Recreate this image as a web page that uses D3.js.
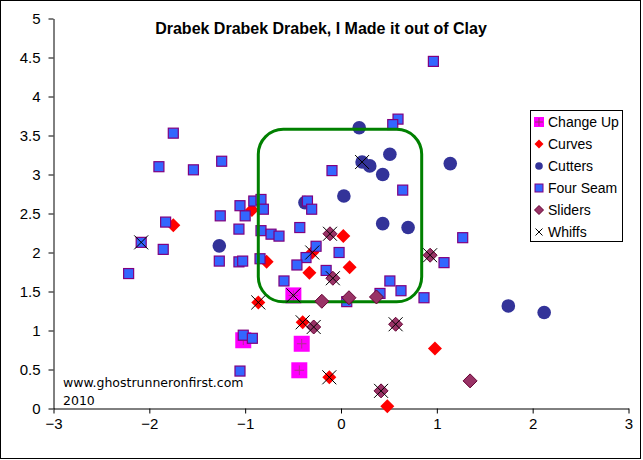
<!DOCTYPE html>
<html>
<head>
<meta charset="utf-8">
<script src="https://cdn.jsdelivr.net/npm/d3@7"></script>
<style>
  body { margin: 0; background: #fff; }
  svg { display: block; }
  text { font-family: "Liberation Sans", Arial, sans-serif; }
</style>
</head>
<body>
<svg id="chart" width="643" height="460"></svg>
<script>
// pitch locations, [horizontal, vertical]
var changeUp = [[-1.02, 0.875], [-0.41, 0.83], [-0.435, 0.49], [-0.497, 1.45]];
var curves = [[-1.75, 2.35], [-0.93, 2.545], [-0.776, 1.88], [-0.30, 2.0], [-0.33, 1.74], [0.024, 2.21],
    [0.09, 1.81], [-0.863, 1.36], [-0.40, 1.105], [-0.122, 0.40], [0.98, 0.77], [0.483, 0.03]];
var cutters = [[-0.376, 2.64], [0.03, 2.725], [0.19, 3.60], [0.51, 3.26], [0.22, 3.16], [0.30, 3.11],
    [0.435, 3.0], [1.14, 3.14], [0.435, 2.37], [0.70, 2.32], [-1.27, 2.085], [1.746, 1.315], [2.12, 1.23]];
var fourSeam = [[-1.75, 3.53], [-1.90, 3.10], [-1.54, 3.06], [-1.245, 3.17], [-1.83, 2.39], [-1.26, 2.47],
    [-1.054, 2.60], [-1.00, 2.47], [-0.91, 2.66], [-0.835, 2.68], [-0.81, 2.555], [-0.35, 2.66],
    [-0.306, 2.555], [-0.43, 2.32], [-1.065, 2.30], [-0.835, 2.28], [-0.73, 2.235], [-0.647, 2.21],
    [-0.26, 2.08], [-0.365, 1.935], [-0.46, 1.84], [-0.595, 1.635], [-1.27, 1.89], [-1.065, 1.88],
    [-1.026, 1.89], [-0.845, 1.92], [-0.02, 2.0], [-0.155, 1.77], [-1.02, 0.94], [-0.925, 0.90],
    [-2.085, 2.13], [-1.855, 2.04], [-2.216, 1.73], [-1.054, 0.48], [0.595, 3.71], [0.54, 3.64],
    [-0.094, 3.05], [0.644, 2.80], [0.964, 4.45], [1.27, 2.19], [1.075, 1.87], [0.51, 1.635],
    [0.626, 1.51], [0.407, 1.475], [0.866, 1.42], [0.06, 1.37]];
var sliders = [[-0.115, 2.24], [-0.085, 1.67], [-0.2, 1.375], [-0.285, 1.045], [0.93, 1.965], [0.083, 1.42],
    [0.37, 1.43], [0.57, 1.08], [0.418, 0.226], [1.347, 0.354]];
var whiffs = [[-2.085, 2.13], [0.22, 3.16], [-0.115, 2.24], [-0.30, 2.0], [-0.085, 1.67], [-0.497, 1.45],
    [-0.863, 1.36], [-0.40, 1.105], [-0.285, 1.045], [0.93, 1.965], [0.57, 1.08], [-0.122, 0.40], [0.418, 0.226]];
// strike zone box corners
var zone = { x0: -0.863, x1: 0.842, y0: 1.367, y1: 3.58 };
var legendNames = ["Change Up", "Curves", "Cutters", "Four Seam", "Sliders", "Whiffs"];
var xTicks = [-3, -2, -1, 0, 1, 2, 3];
var yTicks = [0, 0.5, 1, 1.5, 2, 2.5, 3, 3.5, 4, 4.5, 5];

var svg = d3.select("#chart");
var x = d3.scaleLinear().domain([-3, 3]).range([53.5, 628.5]);
var y = d3.scaleLinear().domain([0, 5]).range([408.5, 18.5]);

//chart border
svg.append("rect").attr("x", 0.5).attr("y", 0.5).attr("width", 640).attr("height", 458)
    .attr("fill", "#fff").attr("stroke", "#000").attr("stroke-width", 1);

//axes
var xAxis = svg.append("g").attr("transform", "translate(0," + y(0) + ")")
    .call(d3.axisBottom(x).tickValues(xTicks).tickSize(5).tickSizeOuter(0).tickFormat(d3.format("d")));
var yAxis = svg.append("g").attr("transform", "translate(" + x(-3) + ",0)")
    .call(d3.axisLeft(y).tickValues(yTicks).tickSize(5).tickSizeOuter(0).tickFormat(function(d) { return String(d); }));
[xAxis, yAxis].forEach(function(a) {
    a.select(".domain").attr("stroke", "#000");
    a.selectAll(".tick line").attr("stroke", "#000");
    a.selectAll(".tick text").attr("fill", "#000").style("font-size", "15px")
        .style("font-family", '"Liberation Sans", Arial, sans-serif');
});
xAxis.selectAll(".tick text").attr("dy", "0.6em").attr("y", 11);
yAxis.selectAll(".tick text").attr("x", -13);

//title
svg.append("text").attr("x", 321).attr("y", 34).attr("text-anchor", "middle")
    .style("font-size", "16px").style("font-weight", "bold").attr("fill", "#000")
    .text("Drabek Drabek Drabek, I Made it out of Clay");

//watermark
svg.append("text").attr("x", 63).attr("y", 387).style("font-family", '"DejaVu Sans", Verdana, sans-serif')
    .style("font-size", "12.5px").attr("fill", "#000").text("www.ghostrunneronfirst.com");
svg.append("text").attr("x", 63).attr("y", 405).style("font-family", '"DejaVu Sans", Verdana, sans-serif')
    .style("font-size", "12.5px").attr("fill", "#000").text("2010");

function diamond(cx, cy, r) {
    return "M" + cx + "," + (cy - r) + "L" + (cx + r) + "," + cy + "L" + cx + "," + (cy + r) + "L" + (cx - r) + "," + cy + "Z";
}
function cross(cx, cy, r) {
    return "M" + (cx - r) + "," + (cy - r) + "L" + (cx + r) + "," + (cy + r) + "M" + (cx + r) + "," + (cy - r) + "L" + (cx - r) + "," + (cy + r);
}
function plus(cx, cy, r) {
    return "M" + (cx - r) + "," + cy + "L" + (cx + r) + "," + cy + "M" + cx + "," + (cy - r) + "L" + cx + "," + (cy + r);
}

//draw a series of markers in the given style
function drawChangeUp(g, pts, s) {
    g.selectAll(null).data(pts).enter().append("rect")
        .attr("x", function(d) { return x(d[0]) - s / 2; }).attr("y", function(d) { return y(d[1]) - s / 2; })
        .attr("width", s).attr("height", s).attr("fill", "#ff00ff");
    g.selectAll(null).data(pts).enter().append("path")
        .attr("d", function(d) { return plus(x(d[0]), y(d[1]), s * 0.3); })
        .attr("stroke", "#b03090").attr("stroke-width", 1).attr("fill", "none");
}
function drawDiamonds(g, pts, r, fill, stroke) {
    g.selectAll(null).data(pts).enter().append("path")
        .attr("d", function(d) { return diamond(x(d[0]), y(d[1]), r); })
        .attr("fill", fill).attr("stroke", stroke).attr("stroke-width", 1);
}
function drawCircles(g, pts, r) {
    g.selectAll(null).data(pts).enter().append("circle")
        .attr("cx", function(d) { return x(d[0]); }).attr("cy", function(d) { return y(d[1]); })
        .attr("r", r).attr("fill", "#333399");
}
function drawSquares(g, pts, s) {
    g.selectAll(null).data(pts).enter().append("rect")
        .attr("x", function(d) { return x(d[0]) - s / 2; }).attr("y", function(d) { return y(d[1]) - s / 2; })
        .attr("width", s).attr("height", s).attr("fill", "#3366ff").attr("stroke", "#800080").attr("stroke-width", 1.2);
}
function drawCrosses(g, pts, r) {
    g.selectAll(null).data(pts).enter().append("path")
        .attr("d", function(d) { return cross(x(d[0]), y(d[1]), r); })
        .attr("stroke", "#000").attr("stroke-width", 1).attr("fill", "none");
}

var marks = svg.append("g");
drawChangeUp(marks, changeUp, 16);
drawDiamonds(marks, curves, 7, "#ff0000", "none");
drawCircles(marks, cutters, 6.8);
drawSquares(marks, fourSeam, 10);

//strike zone
svg.append("rect").attr("x", x(zone.x0)).attr("y", y(zone.y1))
    .attr("width", x(zone.x1) - x(zone.x0)).attr("height", y(zone.y0) - y(zone.y1))
    .attr("rx", 25).attr("ry", 25).attr("fill", "none").attr("stroke", "#008000").attr("stroke-width", 3);

var marks2 = svg.append("g");
drawDiamonds(marks2, sliders, 7, "#993366", "#660033");
drawCrosses(marks2, whiffs, 7);

//legend
var legend = svg.append("g");
legend.append("rect").attr("x", 530.5).attr("y", 110.5).attr("width", 92).attr("height", 131)
    .attr("fill", "#fff").attr("stroke", "#000").attr("stroke-width", 1);
var ly = function(i) { return 122 + i * 22; };
var lx = 539;
legend.append("rect").attr("x", lx - 5).attr("y", ly(0) - 5).attr("width", 10).attr("height", 10).attr("fill", "#ff00ff");
legend.append("path").attr("d", plus(lx, ly(0), 4)).attr("stroke", "#993366").attr("fill", "none");
legend.append("path").attr("d", diamond(lx, ly(1), 4.5)).attr("fill", "#ff0000");
legend.append("circle").attr("cx", lx).attr("cy", ly(2)).attr("r", 3.8).attr("fill", "#333399");
legend.append("rect").attr("x", lx - 4).attr("y", ly(3) - 4).attr("width", 8).attr("height", 8)
    .attr("fill", "#3366ff").attr("stroke", "#800080");
legend.append("path").attr("d", diamond(lx, ly(4), 4.5)).attr("fill", "#993366").attr("stroke", "#660033");
legend.append("path").attr("d", cross(lx, ly(5), 3.5)).attr("stroke", "#000").attr("fill", "none");
legend.selectAll("text.lbl").data(legendNames).enter().append("text").attr("class", "lbl")
    .attr("x", 548).attr("y", function(d, i) { return ly(i) + 5; })
    .style("font-size", "14px").attr("fill", "#000").text(function(d) { return d; });
</script>
</body>
</html>
